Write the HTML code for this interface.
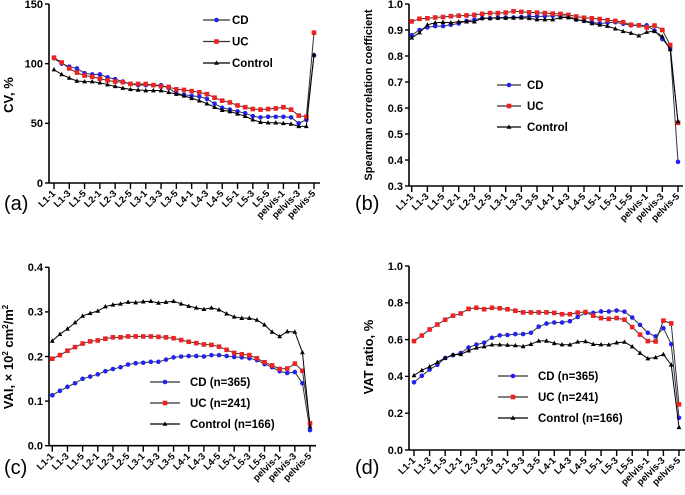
<!DOCTYPE html>
<html><head><meta charset="utf-8">
<style>
html,body{margin:0;padding:0;background:#fff;}
svg{display:block;font-family:"Liberation Sans",sans-serif;}
</style></head>
<body>
<svg id="fig" width="685" height="495" viewBox="0 0 685 495"></svg>
<script>
const categories = [];
["L1","L2","L3","L4","L5"].forEach(l=>{for(let i=1;i<=6;i++)categories.push(l+"-"+i);});
for(let i=1;i<=5;i++)categories.push("pelvis-"+i);

const cvCD = [104.5,100,97.5,96,92,91,91,88.5,87,85,83,82,82,82,82,79.5,75,74,73,72.5,70.5,66.5,63,61.5,60,58.5,56,55,55.5,55.5,55.5,55,50,53,107];
const cvUC = [105,101,96,92.5,90,89,87.5,86,85,84.5,83,83,83,82,81,80.5,78.5,78,77,76,74.5,71.5,69,67.5,65,63.5,62,61.5,62,62.5,63.5,61.5,56.5,55.5,126];
const cvControl = [95,91,88,85.5,85,85,84,82.5,81,79.5,78.5,78,77.5,77.5,77.5,76,74.5,73,71,69,66.5,63.5,61,60,58,56,53,51,50.5,50.5,50,49.5,47.5,47.5,107.5];

const spCD = [0.88,0.90,0.91,0.915,0.915,0.92,0.925,0.935,0.94,0.945,0.945,0.948,0.948,0.948,0.95,0.952,0.952,0.953,0.955,0.955,0.953,0.94,0.935,0.93,0.925,0.928,0.93,0.924,0.918,0.918,0.918,0.898,0.865,0.83,0.393];
const spUC = [0.933,0.943,0.945,0.948,0.95,0.953,0.955,0.956,0.958,0.962,0.965,0.965,0.967,0.972,0.97,0.968,0.967,0.965,0.963,0.962,0.958,0.952,0.947,0.945,0.942,0.938,0.935,0.93,0.92,0.918,0.91,0.917,0.9,0.842,0.543];
const spControl = [0.87,0.89,0.92,0.928,0.93,0.928,0.932,0.932,0.932,0.945,0.945,0.946,0.946,0.947,0.947,0.945,0.94,0.94,0.94,0.948,0.948,0.94,0.935,0.925,0.92,0.915,0.905,0.895,0.888,0.878,0.892,0.895,0.875,0.825,0.548];

const vaiCD = [0.113,0.123,0.132,0.140,0.150,0.155,0.160,0.167,0.172,0.176,0.182,0.185,0.186,0.188,0.188,0.193,0.198,0.200,0.201,0.201,0.200,0.203,0.203,0.201,0.199,0.198,0.196,0.192,0.183,0.176,0.167,0.163,0.165,0.140,0.035];
const vaiUC = [0.195,0.203,0.213,0.221,0.229,0.234,0.236,0.240,0.243,0.243,0.245,0.245,0.245,0.245,0.244,0.243,0.241,0.237,0.233,0.230,0.227,0.226,0.222,0.215,0.208,0.205,0.203,0.196,0.187,0.180,0.172,0.173,0.184,0.168,0.050];
const vaiControl = [0.235,0.250,0.262,0.276,0.291,0.297,0.302,0.312,0.316,0.318,0.322,0.321,0.323,0.324,0.320,0.322,0.324,0.318,0.313,0.309,0.306,0.309,0.305,0.296,0.289,0.286,0.286,0.282,0.271,0.255,0.245,0.256,0.255,0.209,0.043];

const vatCD = [0.368,0.403,0.437,0.463,0.500,0.515,0.527,0.557,0.573,0.583,0.610,0.623,0.625,0.630,0.630,0.637,0.670,0.687,0.693,0.693,0.700,0.723,0.745,0.745,0.753,0.753,0.758,0.752,0.720,0.680,0.637,0.617,0.662,0.575,0.175];
const vatUC = [0.592,0.622,0.655,0.682,0.708,0.730,0.742,0.767,0.773,0.765,0.773,0.770,0.765,0.757,0.748,0.748,0.748,0.748,0.745,0.738,0.738,0.747,0.750,0.730,0.717,0.713,0.717,0.708,0.668,0.627,0.592,0.590,0.703,0.688,0.248];
const vatControl = [0.405,0.433,0.453,0.477,0.500,0.518,0.520,0.540,0.555,0.562,0.572,0.572,0.570,0.568,0.563,0.575,0.593,0.593,0.580,0.573,0.572,0.588,0.590,0.575,0.573,0.572,0.583,0.587,0.562,0.527,0.497,0.503,0.520,0.463,0.123];

const cvTicks = [0,50,100,150];
const spTicks = [0.3,0.4,0.5,0.6,0.7,0.8,0.9,1.0];
const vaiTicks = [0,0.1,0.2,0.3,0.4];
const vatTicks = [0,0.2,0.4,0.6,0.8,1.0];

const NS="http://www.w3.org/2000/svg";
const svg=document.getElementById('fig');
function mk(tag,attrs,parent){const e=document.createElementNS(NS,tag);for(const k in attrs)e.setAttribute(k,attrs[k]);(parent||svg).appendChild(e);return e;}

function marker(g,kind,x,y,color){
  let m;
  if(kind==='circle'){m=mk('circle',{cx:x,cy:y,r:2.3,fill:color},g);}
  else if(kind==='square'){m=mk('rect',{x:x-2.3,y:y-2.3,width:4.6,height:4.6,fill:color},g);}
  else {m=mk('polygon',{points:`${x},${y-2.6} ${x-2.4},${y+1.8} ${x+2.4},${y+1.8}`,fill:color},g);}
  return m;
}

function panel(p){
  const g=mk('g',{});
  
  
  const xs=i=>p.x0+(p.x1-p.x0)*i/(categories.length-1);
  const ys=v=>p.yb+(p.yt-p.yb)*(v-p.ymin)/(p.ymax-p.ymin);
  // axes
  const ya=mk('line',{x1:p.ax,y1:ys(p.ymax),x2:p.ax,y2:p.yb,stroke:'#000','stroke-width':1.6},g);
  
  const xa=mk('line',{x1:p.ax,y1:p.yb,x2:p.xend,y2:p.yb,stroke:'#000','stroke-width':1.6},g);
  
  p.ticks.forEach(t=>{
    const y=ys(t);
    mk('line',{x1:p.ax-4,y1:y,x2:p.ax,y2:y,stroke:'#000','stroke-width':1.4},g);
    const tl=mk('text',{x:p.ax-6,y:y+3.8,'text-anchor':'end','font-size':11,'font-weight':'bold'},g);
    tl.textContent=p.fmt(t);
    
  });
  categories.forEach((c,i)=>{
    if(i%2) return;
    const x=xs(i);
    mk('line',{x1:x,y1:p.yb,x2:x,y2:p.yb+6,stroke:'#000','stroke-width':1.4},g);
    const tl=mk('text',{x:x+2,y:p.yb+11,'text-anchor':'end','font-size':9.5,'font-weight':'bold',transform:`rotate(-45 ${x+2} ${p.yb+11})`},g);
    tl.textContent=c;
    
  });
  // series
  p.series.forEach((s,si)=>{
    const sg=mk('g',{},g);
    
    
    const pts=s.data.map((v,i)=>xs(i).toFixed(2)+','+ys(v).toFixed(2)).join(' ');
    const pl=mk('polyline',{points:pts,fill:'none',stroke:s.line,'stroke-width':1},sg);
    
    s.data.forEach((v,i)=>{
      const m=marker(sg,s.kind,xs(i),ys(v),s.color);
      
      
    });
    // legend
    const ly=p.ly+si*p.lgap;
    const lg=mk('g',{},g);
    
    
    mk('line',{x1:p.lx,y1:ly,x2:p.lx+p.lw,y2:ly,stroke:s.line,'stroke-width':1.2},lg);
    marker(lg,s.kind,p.lx+p.lw/2,ly,s.color);
    const lt=mk('text',{x:p.lx+p.lw+p.lt,y:ly+4,'font-size':11.5,'font-weight':'bold'},lg);
    lt.textContent=s.label;
  });
  // y title
  const yt=mk('text',{x:p.tx,y:p.ty,'text-anchor':'middle','font-size':p.tfs,'font-weight':'bold',transform:`rotate(-90 ${p.tx} ${p.ty})`},g);
  yt.innerHTML=p.title;
  
  const pl=mk('text',{x:p.plx,y:p.ply,'font-size':20},g);
  pl.textContent=p.plabel;
  
}

const mkSeries=(cd,uc,ct,n)=>[
  {key:'cd',label:'CD'+(n?' (n=365)':''),data:cd,kind:'circle',color:'#2222ee',line:'#333'},
  {key:'uc',label:'UC'+(n?' (n=241)':''),data:uc,kind:'square',color:'#ee2222',line:'#333'},
  {key:'control',label:'Control'+(n?' (n=166)':''),data:ct,kind:'tri',color:'#000',line:'#000'}
];

panel({name:'panel-a-cv',x0:54,x1:314,ax:49,xend:320,yb:183,yt:4,ymin:0,ymax:150,ticks:cvTicks,fmt:t=>String(t),
  series:mkSeries(cvCD,cvUC,cvControl,false),lx:203,lw:27,lt:2,ly:20,lgap:21.5,
  title:'CV, %',tfs:13,tx:13,ty:95,plabel:'(a)',plx:4,ply:210});
panel({name:'panel-b-spearman',x0:411.7,x1:678,ax:409,xend:683,yb:186,yt:4,ymin:0.3,ymax:1.0,ticks:spTicks,fmt:t=>t.toFixed(1),
  series:mkSeries(spCD,spUC,spControl,false),lx:497,lw:24,lt:6,ly:85,lgap:21,
  title:'Spearman correlation coefficient',tfs:11,tx:372,ty:95,plabel:'(b)',plx:355,ply:210});
panel({name:'panel-c-vai',x0:52.3,x1:310,ax:49,xend:316,yb:445.7,yt:267.3,ymin:0,ymax:0.4,ticks:vaiTicks,fmt:t=>t.toFixed(1),
  series:mkSeries(vaiCD,vaiUC,vaiControl,true),lx:150,lw:30,lt:10,ly:382,lgap:21,
  title:'VAI, × 10<tspan font-size="8" dy="-5">2</tspan><tspan dy="5"> cm</tspan><tspan font-size="8" dy="-5">2</tspan><tspan dy="5">/m</tspan><tspan font-size="8" dy="-5">2</tspan>',tfs:13,tx:13,ty:357,plabel:'(c)',plx:4,ply:474});
panel({name:'panel-d-vat',x0:414,x1:679,ax:409,xend:685,yb:450,yt:266,ymin:0,ymax:1.0,ticks:vatTicks,fmt:t=>t.toFixed(1),
  series:mkSeries(vatCD,vatUC,vatControl,true),lx:498,lw:30,lt:10,ly:376,lgap:21,
  title:'VAT ratio, %',tfs:13,tx:373,ty:357,plabel:'(d)',plx:355,ply:474});
</script>
</body></html>
